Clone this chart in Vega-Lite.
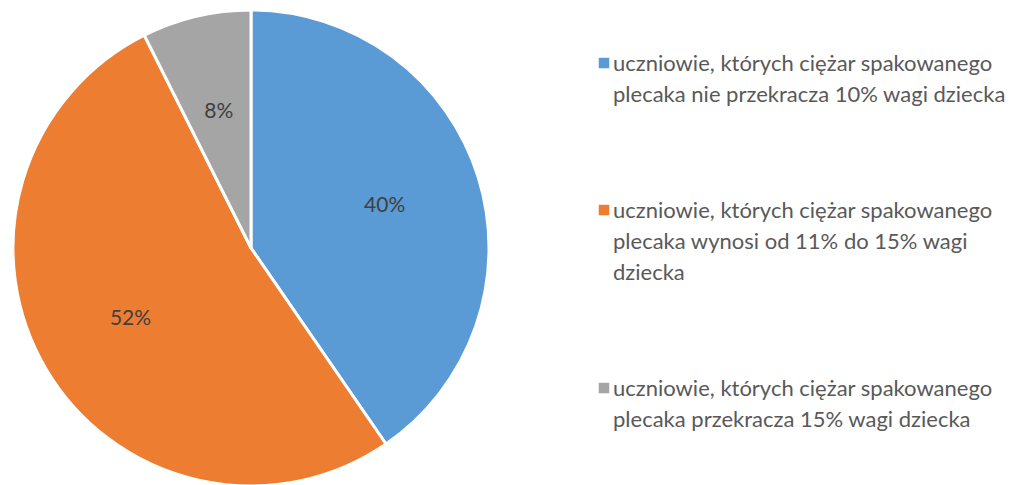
{
  "$schema": "https://vega.github.io/schema/vega-lite/v6.json",
  "width": 502,
  "height": 474,
  "autosize": {"type": "none"},
  "padding": {"left": 0, "top": 11, "right": 514, "bottom": 0},
  "background": "white",
  "view": {"stroke": null},
  "config": {
    "style": {"guide-label": {"lineHeight": 31}}
  },
  "data": {
    "values": [
      {"kategoria": "uczniowie, których ciężar spakowanego|plecaka nie przekracza  10% wagi dziecka", "wartosc": 40.4, "etykieta": "40%", "kolejnosc": 1},
      {"kategoria": "uczniowie, których ciężar spakowanego|plecaka wynosi od 11% do 15% wagi|dziecka", "wartosc": 52.2, "etykieta": "52%", "kolejnosc": 2},
      {"kategoria": "uczniowie, których ciężar spakowanego|plecaka przekracza 15% wagi dziecka", "wartosc": 7.4, "etykieta": "8%", "kolejnosc": 3}
    ]
  },
  "encoding": {
    "theta": {"field": "wartosc", "type": "quantitative", "stack": true},
    "order": {"field": "kolejnosc", "type": "ordinal"},
    "color": {
      "field": "kategoria",
      "type": "nominal",
      "sort": {"field": "kolejnosc"},
      "scale": {"range": ["#5B9BD5", "#ED7D31", "#A5A5A5"]},
      "legend": {
        "title": null,
        "orient": "none",
        "legendX": 593,
        "legendY": 32,
        "symbolType": "M-1,0.72H1V2.72H-1Z",
        "symbolSize": 110,
        "symbolStrokeWidth": 0,
        "labelExpr": "split(datum.label, '|')",
        "labelFont": "Lato",
        "labelFontSize": 22,
        "labelColor": "#595959",
        "labelBaseline": "top",
        "labelLimit": 500,
        "labelOffset": -2,
        "rowPadding": 84,
        "encode": {
          "labels": {
            "enter": {
              "lineHeight": {"value": 31}
            },
            "update": {
              "lineHeight": {"value": 31}
            }
          }
        }
      }
    }
  },
  "layer": [
    {
      "mark": {"type": "arc", "outerRadius": 238, "stroke": "white", "strokeWidth": 3}
    },
    {
      "mark": {"type": "text", "radius": 140, "font": "Lato", "fontSize": 21},
      "encoding": {
        "text": {"field": "etykieta"},
        "color": {"value": "#404040"}
      }
    }
  ]
}
